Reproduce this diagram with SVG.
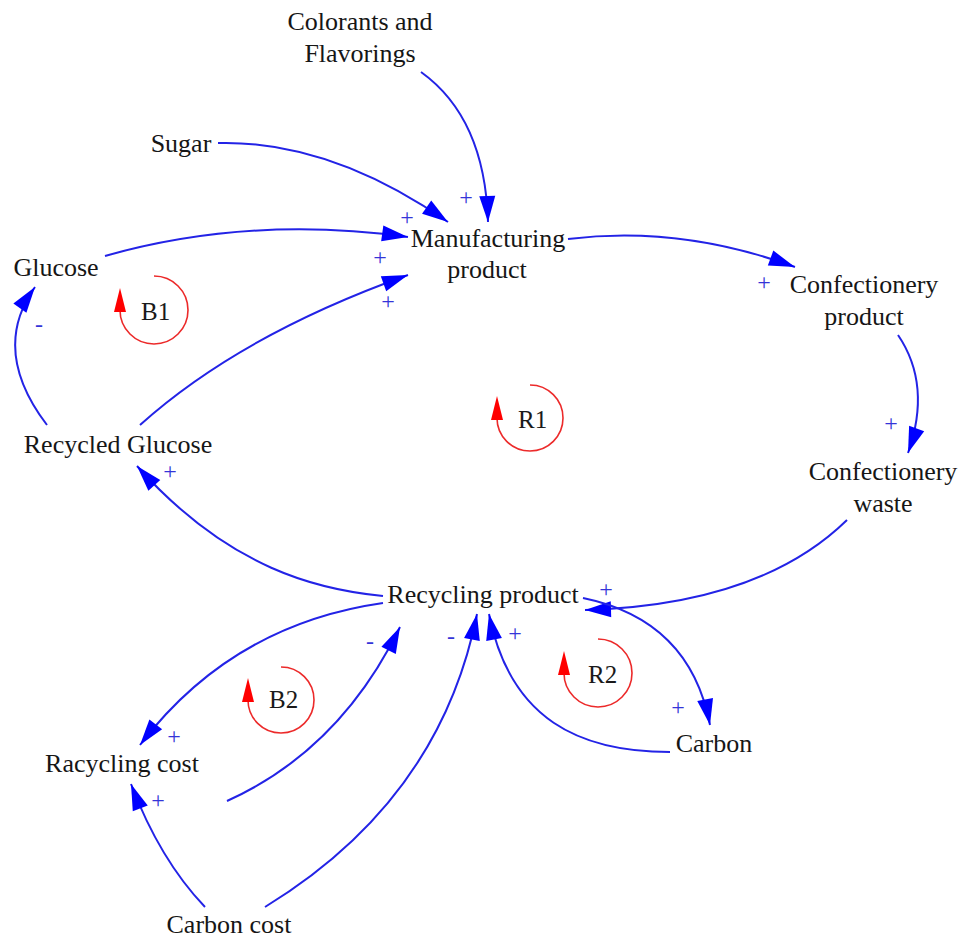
<svg xmlns="http://www.w3.org/2000/svg" width="959" height="941" viewBox="0 0 959 941">
  <style>
    .node text { font-family: 'Liberation Serif', 'Times New Roman', 'DejaVu Serif', serif; font-size: 26px; fill: #161616; text-anchor: middle; }
    .link { fill: none; stroke: #2323e6; stroke-width: 2; marker-end: url(#arrow); }
    .sign { font-family: 'Liberation Serif', 'Times New Roman', serif; font-size: 24px; fill: #3434d8; text-anchor: middle; }
    .loop path { fill: none; stroke: #ec2a2a; stroke-width: 1.6; marker-end: url(#loopArrow); }
    .loop text { font-family: 'Liberation Serif', 'Times New Roman', serif; font-size: 25px; fill: #1a1a1a; }
  </style>
  <defs>
    <marker id="arrow" markerUnits="userSpaceOnUse" markerWidth="28" markerHeight="18" refX="26" refY="8" orient="auto" overflow="visible">
      <path d="M0,0 L26,8 L0,16 z" fill="#0000ff"/>
    </marker>
    <marker id="loopArrow" markerUnits="userSpaceOnUse" markerWidth="24" markerHeight="14" refX="0" refY="6" orient="auto" overflow="visible">
      <path d="M-2,0 L22,6 L-2,12 z" fill="#ff0000"/>
    </marker>
  </defs>
  <rect width="959" height="941" fill="#ffffff"/>

  <!-- causal links -->
  <g id="connectors">
    <path class="link" d="M421 72 Q485 118 488 222"/>
    <path class="link" d="M218 143 Q330 140 448 222"/>
    <path class="link" d="M105 256 Q250 215 408 237"/>
    <path class="link" d="M140 425 Q240 335 408 275"/>
    <path class="link" d="M47 425 Q-10 350 35 287"/>
    <path class="link" d="M568 239 Q680 225 795 267"/>
    <path class="link" d="M898 335 Q932 385 908 453"/>
    <path class="link" d="M847 520 Q760 605 585 610"/>
    <path class="link" d="M583 598 Q690 620 710 725"/>
    <path class="link" d="M670 752 C580 752 510 720 489 614"/>
    <path class="link" d="M265 907 Q440 800 477 614"/>
    <path class="link" d="M205 907 Q160 860 131 784"/>
    <path class="link" d="M227 801 Q340 750 400 627"/>
    <path class="link" d="M383 603 C320 612 220 640 140 745"/>
    <path class="link" d="M383 596 C320 590 230 570 137 466"/>
  </g>

  <!-- link polarities -->
  <g id="polarities" font-family="Liberation Serif, Times New Roman, serif">
    <text class="sign" x="466" y="205">+</text>
    <text class="sign" x="407" y="225">+</text>
    <text class="sign" x="380" y="265">+</text>
    <text class="sign" x="388" y="309">+</text>
    <text class="sign" x="39" y="332">-</text>
    <text class="sign" x="764" y="290">+</text>
    <text class="sign" x="891" y="431">+</text>
    <text class="sign" x="606" y="597">+</text>
    <text class="sign" x="678" y="715">+</text>
    <text class="sign" x="515" y="641">+</text>
    <text class="sign" x="451" y="644">-</text>
    <text class="sign" x="370" y="649">-</text>
    <text class="sign" x="174" y="744">+</text>
    <text class="sign" x="158" y="808">+</text>
    <text class="sign" x="170" y="479">+</text>
  </g>

  <!-- loop identifiers -->
  <g id="loop-B1" class="loop" font-family="Liberation Serif, Times New Roman, serif">
    <path d="M154 276 A34 34 0 1 1 120 310"/>
    <text x="141" y="320">B1</text>
  </g>
  <g id="loop-R1" class="loop" font-family="Liberation Serif, Times New Roman, serif">
    <path d="M530 385 A33 33 0 1 1 497 418"/>
    <text x="518" y="428">R1</text>
  </g>
  <g id="loop-B2" class="loop" font-family="Liberation Serif, Times New Roman, serif">
    <path d="M281 667 A33 33 0 1 1 248 700"/>
    <text x="269" y="708">B2</text>
  </g>
  <g id="loop-R2" class="loop" font-family="Liberation Serif, Times New Roman, serif">
    <path d="M598 639 A34 34 0 1 1 564 673"/>
    <text x="588" y="683">R2</text>
  </g>

  <!-- variables -->
  <g font-family="Liberation Serif, Times New Roman, serif">
    <g id="colorants" class="node"><text x="360" y="30">Colorants and</text><text x="360" y="62">Flavorings</text></g>
    <g id="sugar" class="node"><text x="181" y="152">Sugar</text></g>
    <g id="manufacturing" class="node"><text x="488" y="247">Manufacturing</text><text x="487" y="278">product</text></g>
    <g id="glucose" class="node"><text x="56" y="276">Glucose</text></g>
    <g id="confectionery-product" class="node"><text x="864" y="293">Confectionery</text><text x="864" y="325">product</text></g>
    <g id="confectionery-waste" class="node"><text x="883" y="480">Confectionery</text><text x="883" y="512">waste</text></g>
    <g id="recycled-glucose" class="node"><text x="118" y="453">Recycled Glucose</text></g>
    <g id="recycling-product" class="node"><text x="483" y="603">Recycling product</text></g>
    <g id="racycling-cost" class="node"><text x="122" y="772">Racycling cost</text></g>
    <g id="carbon" class="node"><text x="714" y="752">Carbon</text></g>
    <g id="carbon-cost" class="node"><text x="229" y="933">Carbon cost</text></g>
  </g>
</svg>
